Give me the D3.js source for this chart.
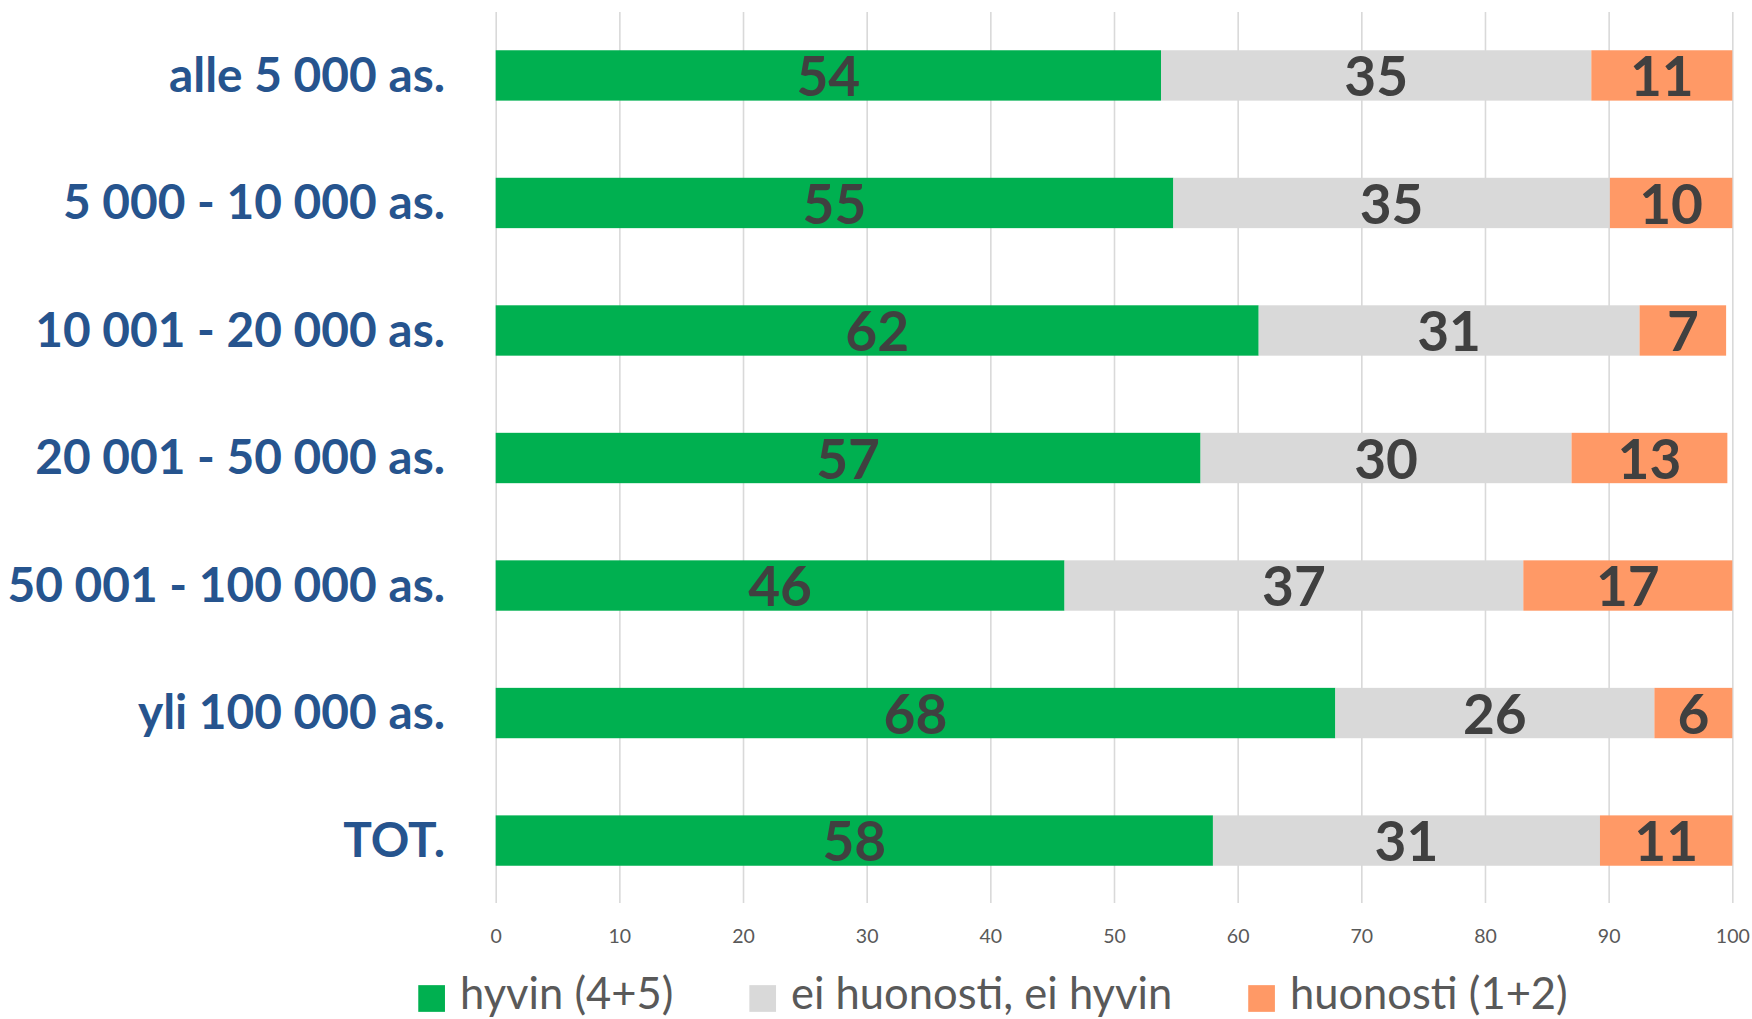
<!DOCTYPE html>
<html>
<head>
<meta charset="utf-8">
<script src="https://cdn.jsdelivr.net/npm/d3@7"></script>
<style>
  html, body { margin: 0; padding: 0; background: #fff; }
  svg { display: block; }
  text { font-family: "Lato", "Open Sans", sans-serif; }
</style>
</head>
<body>
<svg id="chart" width="1752" height="1019"></svg>
<script>
// ---- data ----
const categories = ["alle 5 000 as.", "5 000 - 10 000 as.", "10 001 - 20 000 as.", "20 001 - 50 000 as.", "50 001 - 100 000 as.", "yli 100 000 as.", "TOT."];
const seriesNames = ["hyvin (4+5)", "ei huonosti, ei hyvin", "huonosti (1+2)"];
const hyvin = [53.8, 54.8, 61.7, 57.0, 46.0, 67.9, 58.0];
const neutral = [34.8, 35.3, 30.8, 30.0, 37.1, 25.8, 31.3];
const huonosti = [11.4, 9.9, 7.0, 12.6, 16.9, 6.3, 10.7];
const hyvinLabels = [54, 55, 62, 57, 46, 68, 58];
const neutralLabels = [35, 35, 31, 30, 37, 26, 31];
const huonostiLabels = [11, 10, 7, 13, 17, 6, 11];
const xTicks = [0, 10, 20, 30, 40, 50, 60, 70, 80, 90, 100];

const colors = ["#00B050", "#D9D9D9", "#FF9966"];
const seriesLabels = [hyvinLabels, neutralLabels, huonostiLabels];

const svg = d3.select("#chart");

const x = d3.scaleLinear().domain([0, 100]).range([495.7, 1732.3]);
const y = d3.scaleBand().domain(categories).range([12, 904]).paddingInner(0.605).paddingOuter(0.3);

// gridlines + tick labels
const gridBottom = 903;
const axis = d3.axisBottom(x).tickValues(xTicks).tickSize(gridBottom - 12).tickPadding(0).tickFormat(d3.format("d"));
const gAxis = svg.append("g").attr("transform", `translate(0,12)`).call(axis);
gAxis.select(".domain").remove();
gAxis.selectAll(".tick line").attr("stroke", "#D9D9D9").attr("stroke-width", 1.6);
gAxis.selectAll(".tick text")
  .attr("y", 943 - 12).attr("dy", null)
  .attr("fill", "#595959")
  .style("font-size", "19.5px")
  .style("font-family", "Lato, sans-serif");

// stacked bars
const stackRows = categories.map((c, i) => ({ cat: c, s0: hyvin[i], s1: neutral[i], s2: huonosti[i] }));
const stacked = d3.stack().keys(["s0", "s1", "s2"])(stackRows);

const gBars = svg.append("g");
stacked.forEach((layer, si) => {
  gBars.selectAll(null).data(layer).enter().append("rect")
    .attr("x", d => x(d[0]))
    .attr("y", d => y(d.data.cat))
    .attr("width", d => x(d[1]) - x(d[0]))
    .attr("height", y.bandwidth())
    .attr("fill", colors[si]);
});

// value labels
const valFs = 55;
stacked.forEach((layer, si) => {
  gBars.selectAll(null).data(layer).enter().append("text")
    .attr("x", d => (x(d[0]) + x(d[1])) / 2)
    .attr("y", d => y(d.data.cat) + y.bandwidth() / 2 + valFs * 0.375)
    .attr("text-anchor", "middle")
    .attr("fill", "#404040")
    .style("font-size", valFs + "px")
    .style("font-weight", "bold")
    .text((d, i) => seriesLabels[si][i]);
});

// category labels
const catFs = 47.8;
svg.append("g").selectAll("text").data(categories).enter().append("text")
  .attr("x", 445)
  .attr("y", d => y(d) + y.bandwidth() / 2 + catFs * 0.34)
  .attr("text-anchor", "end")
  .attr("fill", "#26548E")
  .style("font-size", catFs + "px")
  .style("font-weight", "bold")
  .text(d => d);

// legend
const legFs = 43.5;
const gLeg = svg.append("g");
const sq = 26.7, gapText = 15, gapItem = 76, legY = 998.5;
const items = gLeg.selectAll("g").data(seriesNames).enter().append("g");
items.append("rect").attr("width", sq).attr("height", sq).attr("y", legY - sq / 2).attr("fill", (d, i) => colors[i]);
items.append("text").attr("x", sq + gapText).attr("y", 1009)
  .attr("fill", "#595959").style("font-size", legFs + "px").text(d => d);
let widths = [];
items.each(function () { widths.push(sq + gapText + this.querySelector("text").getComputedTextLength()); });
const total = d3.sum(widths) + gapItem * (widths.length - 1);
let cx = 993 - total / 2;
items.each(function (d, i) { d3.select(this).attr("transform", `translate(${cx},0)`); cx += widths[i] + gapItem; });
</script>
</body>
</html>
